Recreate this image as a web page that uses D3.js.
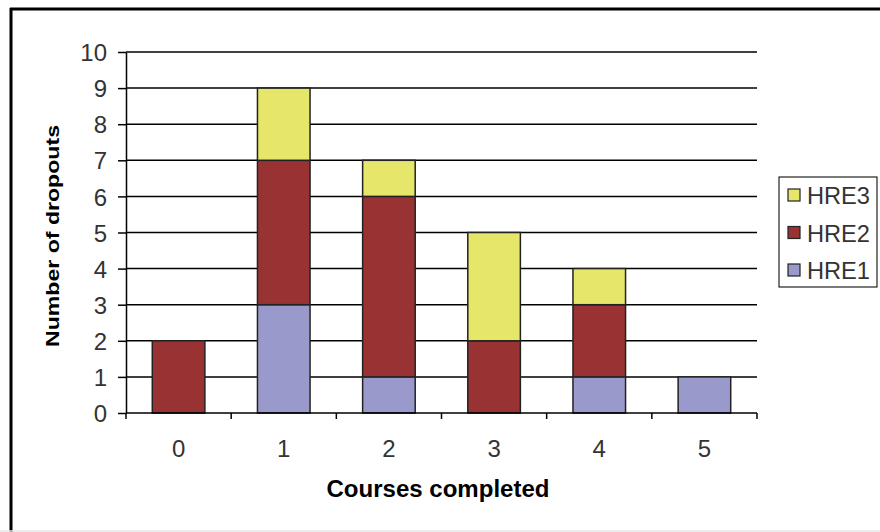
<!DOCTYPE html>
<html><head><meta charset="utf-8">
<script src="https://cdn.jsdelivr.net/npm/d3@7"></script>
<style>body{margin:0;background:#fff}svg{display:block}</style>
</head><body>
<svg id="c" width="880" height="532"></svg>
<script>
const categories = ["0","1","2","3","4","5"];
const seriesNames = ["HRE1","HRE2","HRE3"];
const hre1 = [0,3,1,0,1,1];
const hre2 = [2,4,5,2,2,0];
const hre3 = [0,2,1,3,1,0];
const yTicks = [0,1,2,3,4,5,6,7,8,9,10];
const colors = {HRE1:"#9999CC", HRE2:"#993333", HRE3:"#E6E66A"};

const svg = d3.select("#c");
const font = "'Liberation Sans', Arial, sans-serif";

// frame
svg.append("rect").attr("x",0).attr("y",0).attr("width",880).attr("height",532).attr("fill","#fff");
svg.append("line").attr("x1",10).attr("x2",880).attr("y1",9).attr("y2",9).attr("stroke","#000").attr("stroke-width",3);
svg.append("line").attr("x1",11).attr("x2",11).attr("y1",8).attr("y2",532).attr("stroke","#000").attr("stroke-width",3);
svg.append("line").attr("x1",0).attr("x2",880).attr("y1",531).attr("y2",531).attr("stroke","#e6e6e6").attr("stroke-width",1.5);

const x = d3.scaleBand().domain(categories).range([126,757]).paddingInner(0.5).paddingOuter(0.25);
const xOuter = d3.scaleBand().domain(categories).range([126,757]);
const y = d3.scaleLinear().domain([0,10]).range([413,52]);

// gridlines
svg.append("g").selectAll("line").data(yTicks.filter(d=>d>0)).join("line")
  .attr("x1",126).attr("x2",757).attr("y1",d=>y(d)).attr("y2",d=>y(d))
  .attr("stroke","#000").attr("stroke-width",1.5);

// stacked bars
const table = categories.map((c,i)=>({cat:c, HRE1:hre1[i], HRE2:hre2[i], HRE3:hre3[i]}));
const stack = d3.stack().keys(seriesNames)(table);
svg.append("g").selectAll("g").data(stack).join("g")
  .attr("fill",d=>colors[d.key])
  .selectAll("rect").data(d=>d.filter(p=>p[1]-p[0]>0)).join("rect")
  .attr("x",d=>x(d.data.cat)).attr("width",x.bandwidth())
  .attr("y",d=>y(d[1])).attr("height",d=>y(d[0])-y(d[1]))
  .attr("stroke","#222").attr("stroke-width",1.5);

// y axis
const yAxis = svg.append("g").attr("transform","translate(126,0)")
  .call(d3.axisLeft(y).tickValues(yTicks).tickSize(8).tickPadding(11).tickSizeOuter(0));
yAxis.select(".domain").attr("stroke","#000").attr("stroke-width",1.5);
yAxis.selectAll(".tick line").attr("stroke","#000").attr("stroke-width",1.5);
yAxis.selectAll(".tick text").attr("font-family",font).attr("font-size",24).attr("fill","#333").attr("dy","0.36em");

// x axis
const xAxisG = svg.append("g").attr("transform","translate(0,413)");
xAxisG.append("line").attr("x1",126).attr("x2",757).attr("stroke","#000").attr("stroke-width",1.5);
const bounds = categories.map(c=>xOuter(c)).concat([757]);
xAxisG.selectAll("line.tk").data(bounds).join("line").attr("class","tk")
  .attr("x1",d=>d).attr("x2",d=>d).attr("y1",0).attr("y2",6).attr("stroke","#000").attr("stroke-width",1.5);
xAxisG.selectAll("text").data(categories).join("text")
  .attr("x",d=>x(d)+x.bandwidth()/2).attr("y",44).attr("text-anchor","middle")
  .attr("font-family",font).attr("font-size",24).attr("fill","#333").text(d=>d);

// axis titles
svg.append("text").attr("x",438).attr("y",497).attr("text-anchor","middle")
  .attr("font-family",font).attr("font-weight","bold").attr("font-size",23)
  .attr("textLength",223).attr("lengthAdjust","spacingAndGlyphs").text("Courses completed");
svg.append("text").attr("transform","translate(59,236) rotate(-90)").attr("text-anchor","middle")
  .attr("font-family",font).attr("font-weight","bold").attr("font-size",19)
  .attr("textLength",222).attr("lengthAdjust","spacingAndGlyphs").text("Number of dropouts");

// legend
const lg = svg.append("g");
lg.append("rect").attr("x",779).attr("y",177).attr("width",98).attr("height",110)
  .attr("fill","#fff").attr("stroke","#222").attr("stroke-width",1.2);
const legendOrder = ["HRE3","HRE2","HRE1"];
const items = lg.selectAll("g").data(legendOrder).join("g")
  .attr("transform",(d,i)=>`translate(788,${195+i*37.5})`);
items.append("rect").attr("x",0).attr("y",-6).attr("width",12).attr("height",12)
  .attr("fill",d=>colors[d]).attr("stroke","#222").attr("stroke-width",1.2);
items.append("text").attr("x",19).attr("y",9).attr("font-family",font).attr("font-size",24)
  .attr("fill","#333").attr("textLength",63).attr("lengthAdjust","spacingAndGlyphs").text(d=>d);
</script>
</body></html>
